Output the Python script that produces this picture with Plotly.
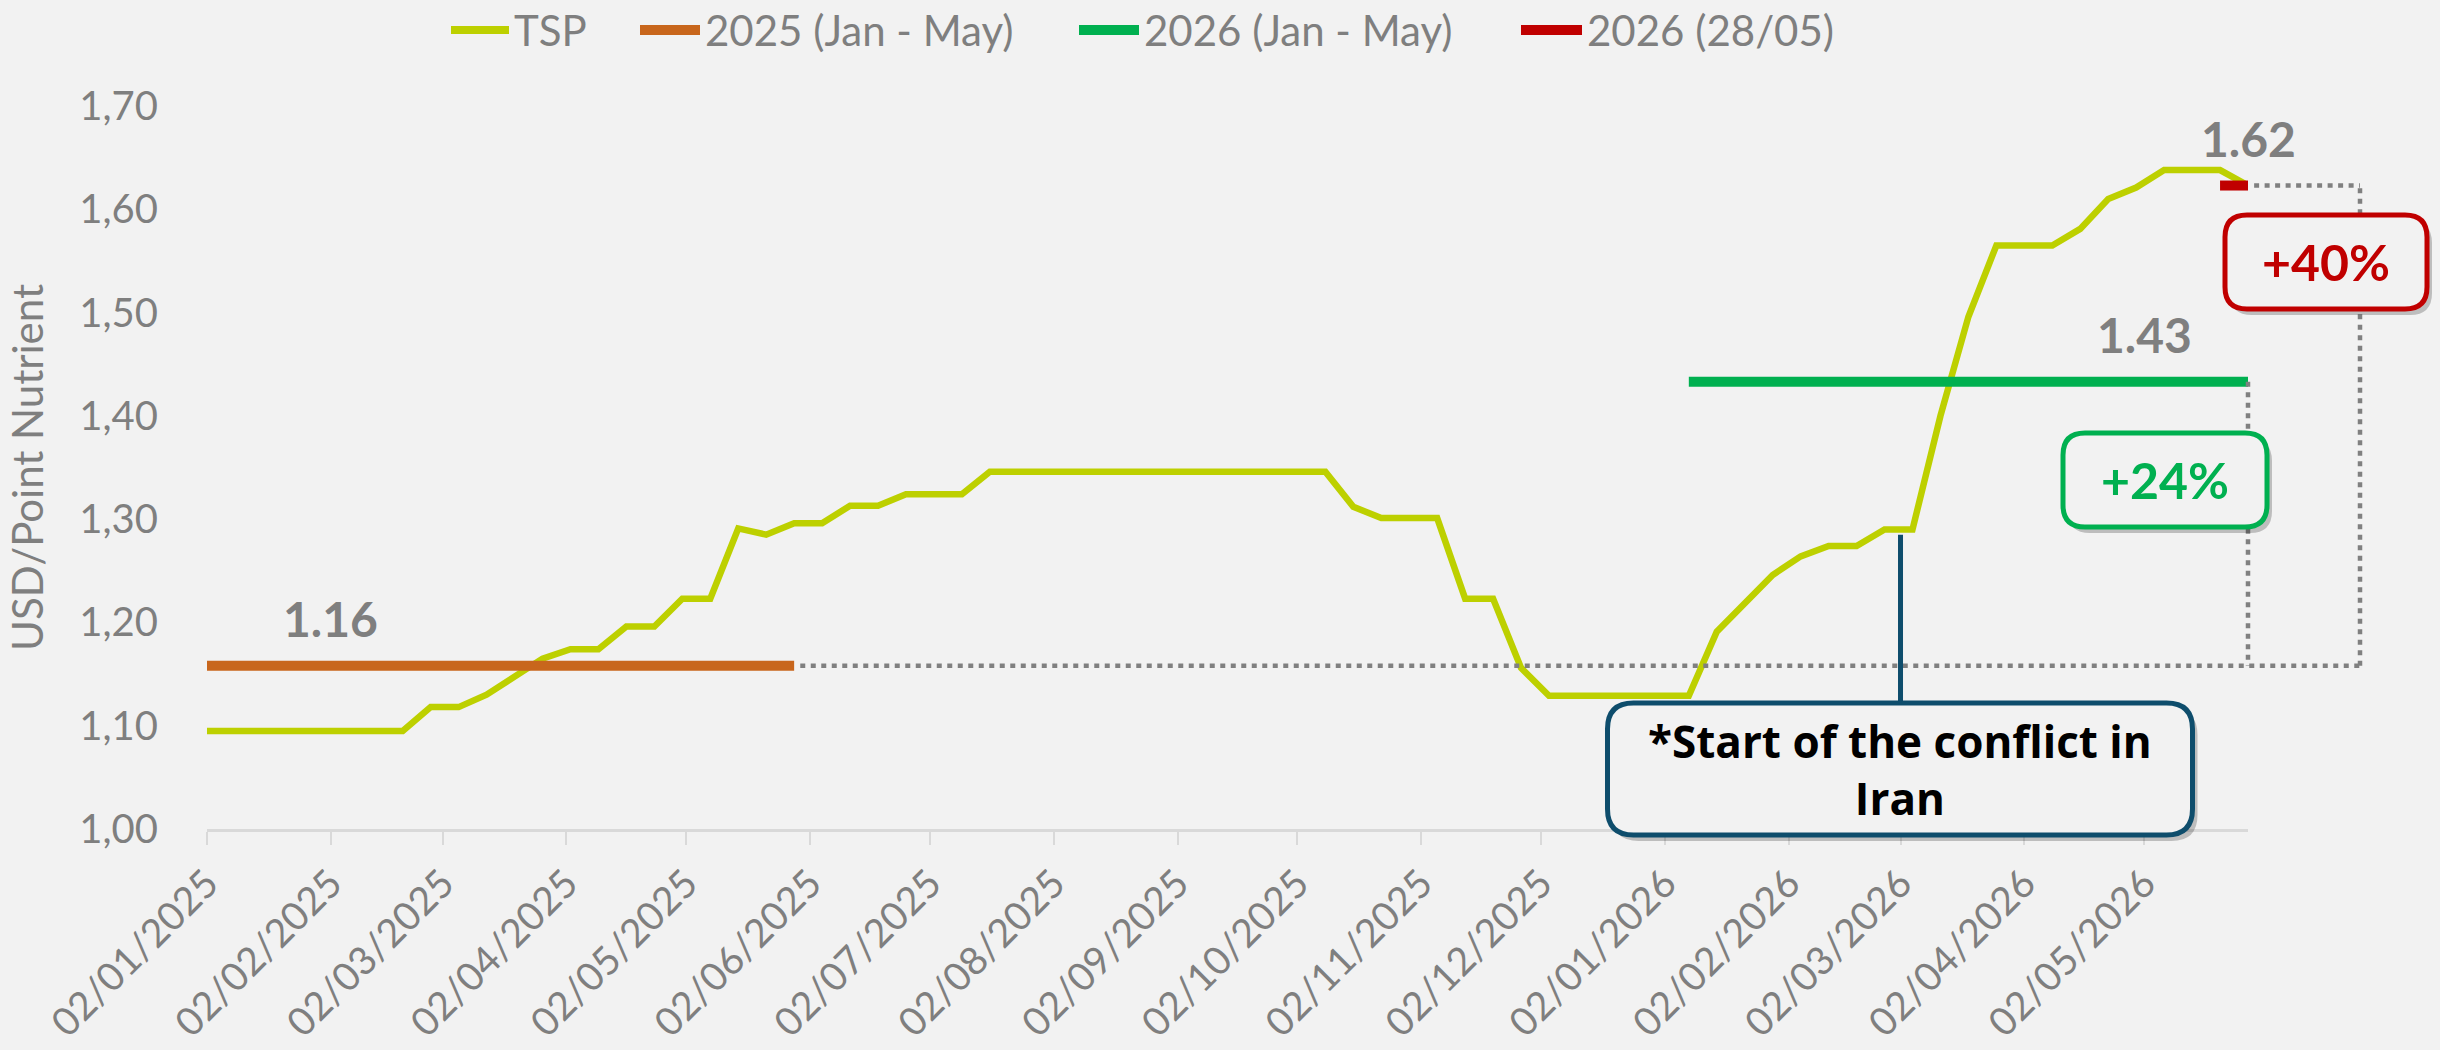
import pandas as pd
import plotly.graph_objects as go

# ---------------- data ----------------
DATES = [
    "2025-01-02", "2025-01-09", "2025-01-16", "2025-01-23", "2025-01-30",
    "2025-02-06", "2025-02-13", "2025-02-20", "2025-02-27",
    "2025-03-06", "2025-03-13", "2025-03-20", "2025-03-27",
    "2025-04-03", "2025-04-10", "2025-04-17", "2025-04-24",
    "2025-05-01", "2025-05-08", "2025-05-15", "2025-05-22", "2025-05-29",
    "2025-06-05", "2025-06-12", "2025-06-19", "2025-06-26",
    "2025-07-03", "2025-07-10", "2025-07-17", "2025-07-24", "2025-07-31",
    "2025-08-07", "2025-08-14", "2025-08-21", "2025-08-28",
    "2025-09-04", "2025-09-11", "2025-09-18", "2025-09-25",
    "2025-10-02", "2025-10-09", "2025-10-16", "2025-10-23", "2025-10-30",
    "2025-11-06", "2025-11-13", "2025-11-20", "2025-11-27",
    "2025-12-04", "2025-12-11", "2025-12-18", "2025-12-25",
    "2026-01-01", "2026-01-08", "2026-01-15", "2026-01-22", "2026-01-29",
    "2026-02-05", "2026-02-12", "2026-02-19", "2026-02-26",
    "2026-03-05", "2026-03-12", "2026-03-19", "2026-03-26",
    "2026-04-02", "2026-04-09", "2026-04-16", "2026-04-23", "2026-04-30",
    "2026-05-07", "2026-05-14", "2026-05-21", "2026-05-28",
]
TSP = [
    1.095, 1.095, 1.095, 1.095, 1.095, 1.095, 1.095, 1.095,
    1.118, 1.118, 1.130, 1.147, 1.165, 1.174, 1.174, 1.196, 1.196,
    1.223, 1.223, 1.291, 1.285, 1.296, 1.296, 1.313, 1.313,
    1.324, 1.324, 1.324,
    1.346, 1.346, 1.346, 1.346, 1.346, 1.346, 1.346, 1.346, 1.346,
    1.346, 1.346, 1.346, 1.346,
    1.312, 1.301, 1.301, 1.301, 1.223, 1.223, 1.156,
    1.129, 1.129, 1.129, 1.129, 1.129, 1.129,
    1.191, 1.218, 1.246, 1.264, 1.274, 1.274, 1.290, 1.290,
    1.400, 1.496, 1.565, 1.565, 1.565, 1.581, 1.610, 1.621,
    1.638, 1.638, 1.638, 1.623,
]
AVG_2025_DATES = ["2025-01-02", "2025-05-29"]
AVG_2025 = [1.158, 1.158]
AVG_2026_DATES = ["2026-01-08", "2026-05-28"]
AVG_2026 = [1.433, 1.433]
LAST_DATES = ["2026-05-21", "2026-05-28"]
LAST_VALUE = [1.623, 1.623]

SERIES_NAMES = ["TSP", "2025 (Jan - May)", "2026 (Jan - May)", "2026 (28/05)"]

TICK_DATES = [
    "2025-01-02", "2025-02-02", "2025-03-02", "2025-04-02", "2025-05-02",
    "2025-06-02", "2025-07-02", "2025-08-02", "2025-09-02", "2025-10-02",
    "2025-11-02", "2025-12-02", "2026-01-02", "2026-02-02", "2026-03-02",
    "2026-04-02", "2026-05-02",
]
TICK_TEXT = [
    "02/01/2025", "02/02/2025", "02/03/2025", "02/04/2025", "02/05/2025",
    "02/06/2025", "02/07/2025", "02/08/2025", "02/09/2025", "02/10/2025",
    "02/11/2025", "02/12/2025", "02/01/2026", "02/02/2026", "02/03/2026",
    "02/04/2026", "02/05/2026",
]
Y_TICKS = [1.0, 1.1, 1.2, 1.3, 1.4, 1.5, 1.6, 1.7]
Y_TICK_TEXT = ["1,00", "1,10", "1,20", "1,30", "1,40", "1,50", "1,60", "1,70"]
Y_TITLE = "USD/Point Nutrient"

CONFLICT_DATE = "2026-03-02"
CONFLICT_TEXT = "*Start of the conflict in<br>Iran"
CONFLICT_LINE_TOP = 1.285

LABEL_2025_DATE = "2025-02-02"
LABEL_2026_DATE = "2026-05-02"

# ---------------- style / layout ----------------
C_TSP = "#BDD000"
C_2025 = "#C8661C"
C_2026 = "#00B050"
C_LAST = "#C00000"
C_GREY = "#7F7F7F"
C_DOT = "#808080"
C_NAVY = "#0E4D6C"
BG = "#F2F2F2"
FONT = "Lato, sans-serif"

FIG_W, FIG_H = 2440, 1050
M_L, M_R, M_T, M_B = 207, 192, 106, 221
PLOT_W = FIG_W - M_L - M_R
PLOT_H = FIG_H - M_T - M_B
Y0, Y1 = 1.0, 1.7
X_START = pd.Timestamp(DATES[0])
X_END = pd.Timestamp(DATES[-1])


def px_x(px):
    return (px - M_L) / PLOT_W


def px_y(py):
    return (FIG_H - M_B - py) / PLOT_H


def v_y(v):
    return (v - Y0) / (Y1 - Y0)


def d_x(d):
    return (pd.Timestamp(d) - X_START) / (X_END - X_START)


def rrect(w, h, r):
    a, b = w / 2, h / 2
    return (f"M {-a + r},{-b} L {a - r},{-b} Q {a},{-b} {a},{-b + r} "
            f"L {a},{b - r} Q {a},{b} {a - r},{b} L {-a + r},{b} "
            f"Q {-a},{b} {-a},{b - r} L {-a},{-b + r} Q {-a},{-b} {-a + r},{-b} Z")


fig = go.Figure()
fig.add_trace(go.Scatter(x=DATES, y=TSP, mode="lines", name=SERIES_NAMES[0],
                         line=dict(color=C_TSP, width=6.5), showlegend=False))
fig.add_trace(go.Scatter(x=AVG_2025_DATES, y=AVG_2025, mode="lines", name=SERIES_NAMES[1],
                         line=dict(color=C_2025, width=10), showlegend=False))
fig.add_trace(go.Scatter(x=AVG_2026_DATES, y=AVG_2026, mode="lines", name=SERIES_NAMES[2],
                         line=dict(color=C_2026, width=10), showlegend=False))
fig.add_trace(go.Scatter(x=LAST_DATES, y=LAST_VALUE, mode="lines", name=SERIES_NAMES[3],
                         line=dict(color=C_LAST, width=10), showlegend=False))

shapes = []
annotations = []

# dotted comparison bracket
BRACKET_PX = 2360
dot = dict(color=C_DOT, width=4.5, dash="5px,5.5px")
shapes += [
    dict(type="line", xref="paper", yref="paper", x0=d_x(AVG_2025_DATES[-1]) + 0.003,
         x1=px_x(BRACKET_PX), y0=v_y(AVG_2025[0]), y1=v_y(AVG_2025[0]), line=dot),
    dict(type="line", xref="paper", yref="paper", x0=px_x(BRACKET_PX), x1=px_x(BRACKET_PX),
         y0=v_y(AVG_2025[0]), y1=v_y(LAST_VALUE[-1]), line=dot),
    dict(type="line", xref="paper", yref="paper", x0=d_x(LAST_DATES[-1]) + 0.003,
         x1=px_x(BRACKET_PX), y0=v_y(LAST_VALUE[-1]), y1=v_y(LAST_VALUE[-1]), line=dot),
    dict(type="line", xref="paper", yref="paper", x0=d_x(AVG_2026_DATES[-1]),
         x1=d_x(AVG_2026_DATES[-1]), y0=v_y(AVG_2026[0]), y1=v_y(AVG_2025[0]), line=dot),
]

# conflict connector
BOX_C = dict(cx=1900, cy=769, w=585, h=132, r=26)
shapes.append(dict(type="line", xref="paper", yref="paper",
                   x0=d_x(CONFLICT_DATE), x1=d_x(CONFLICT_DATE),
                   y0=v_y(CONFLICT_LINE_TOP), y1=px_y(BOX_C["cy"] - BOX_C["h"] / 2),
                   line=dict(color=C_NAVY, width=5)))

# boxes with shadows
BOX_24 = dict(cx=2165, cy=480, w=204, h=94, r=22)
BOX_40 = dict(cx=2326, cy=262, w=202, h=94, r=22)


def add_box(b, color):
    shapes.append(dict(type="path", xref="paper", yref="paper", xsizemode="pixel",
                       ysizemode="pixel", xanchor=px_x(b["cx"] + 5), yanchor=px_y(b["cy"] + 6),
                       path=rrect(b["w"], b["h"], b["r"]), fillcolor="rgba(0,0,0,0.22)",
                       line=dict(width=0)))
    shapes.append(dict(type="path", xref="paper", yref="paper", xsizemode="pixel",
                       ysizemode="pixel", xanchor=px_x(b["cx"]), yanchor=px_y(b["cy"]),
                       path=rrect(b["w"], b["h"], b["r"]), fillcolor=BG,
                       line=dict(color=color, width=5)))


add_box(BOX_C, C_NAVY)
add_box(BOX_24, C_2026)
add_box(BOX_40, C_LAST)

pct_24 = round((AVG_2026[0] / AVG_2025[0] - 1) * 100)
pct_40 = round((LAST_VALUE[-1] / AVG_2025[0] - 1) * 100)
annotations += [
    dict(text=CONFLICT_TEXT, xref="paper", yref="paper", x=px_x(BOX_C["cx"]), y=px_y(BOX_C["cy"]),
         showarrow=False, xanchor="center", yanchor="middle", align="center",
         font=dict(family="Open Sans, sans-serif", size=44, color="#000000", weight="bold")),
    dict(text=f"+{pct_24}%", xref="paper", yref="paper", x=px_x(BOX_24["cx"]), y=px_y(BOX_24["cy"]),
         showarrow=False, xanchor="center", yanchor="middle",
         font=dict(family=FONT, size=50, color=C_2026, weight="bold")),
    dict(text=f"+{pct_40}%", xref="paper", yref="paper", x=px_x(BOX_40["cx"]), y=px_y(BOX_40["cy"]),
         showarrow=False, xanchor="center", yanchor="middle",
         font=dict(family=FONT, size=50, color=C_LAST, weight="bold")),
]

# data labels
for d, v in [(LABEL_2025_DATE, AVG_2025[0]), (LABEL_2026_DATE, AVG_2026[0]),
             (LAST_DATES[-1], LAST_VALUE[-1])]:
    annotations.append(dict(text=f"{v:.2f}", xref="paper", yref="paper", x=d_x(d), y=v_y(v),
                            yshift=47, showarrow=False, xanchor="center", yanchor="middle",
                            font=dict(family=FONT, size=48, color=C_GREY, weight="bold")))

# custom legend
LEG_Y = 30
legend_items = [
    (SERIES_NAMES[0], C_TSP, 451, 509, 8),
    (SERIES_NAMES[1], C_2025, 640, 700, 10),
    (SERIES_NAMES[2], C_2026, 1079, 1139, 10),
    (SERIES_NAMES[3], C_LAST, 1521, 1582, 10),
]
for name, col, a, b, w in legend_items:
    shapes.append(dict(type="line", xref="paper", yref="paper", x0=px_x(a), x1=px_x(b),
                       y0=px_y(LEG_Y), y1=px_y(LEG_Y), line=dict(color=col, width=w)))
    annotations.append(dict(text=name, xref="paper", yref="paper", x=px_x(b + 3), y=px_y(LEG_Y),
                            showarrow=False, xanchor="left", yanchor="middle",
                            font=dict(family=FONT, size=42, color=C_GREY)))

fig.update_layout(
    width=FIG_W, height=FIG_H, autosize=False,
    margin=dict(l=M_L, r=M_R, t=M_T, b=M_B, pad=0, autoexpand=False),
    paper_bgcolor=BG, plot_bgcolor=BG,
    showlegend=False,
    shapes=shapes, annotations=annotations,
    xaxis=dict(type="date", range=[DATES[0], DATES[-1]], tickvals=TICK_DATES, ticktext=TICK_TEXT,
               tickangle=-45, ticks="outside", ticklen=13, tickwidth=2, tickcolor="#D9D9D9",
               showline=True, linecolor="#D9D9D9", linewidth=3, showgrid=False, zeroline=False,
               automargin=False,
               tickfont=dict(family=FONT, size=39, color=C_GREY), fixedrange=True),
    yaxis=dict(range=[Y0, Y1], tickvals=Y_TICKS, ticktext=Y_TICK_TEXT, ticks="",
               showline=False, showgrid=False, zeroline=False, ticklabelstandoff=48,
               automargin=False,
               tickfont=dict(family=FONT, size=40, color=C_GREY),
               title=dict(text=Y_TITLE, standoff=22, font=dict(family=FONT, size=42, color=C_GREY)),
               fixedrange=True),
)

fig.write_html(
    "out.html",
    config=dict(displayModeBar=False),
    post_script="document.body.style.margin='0px';document.body.style.background='#F2F2F2';",
)
